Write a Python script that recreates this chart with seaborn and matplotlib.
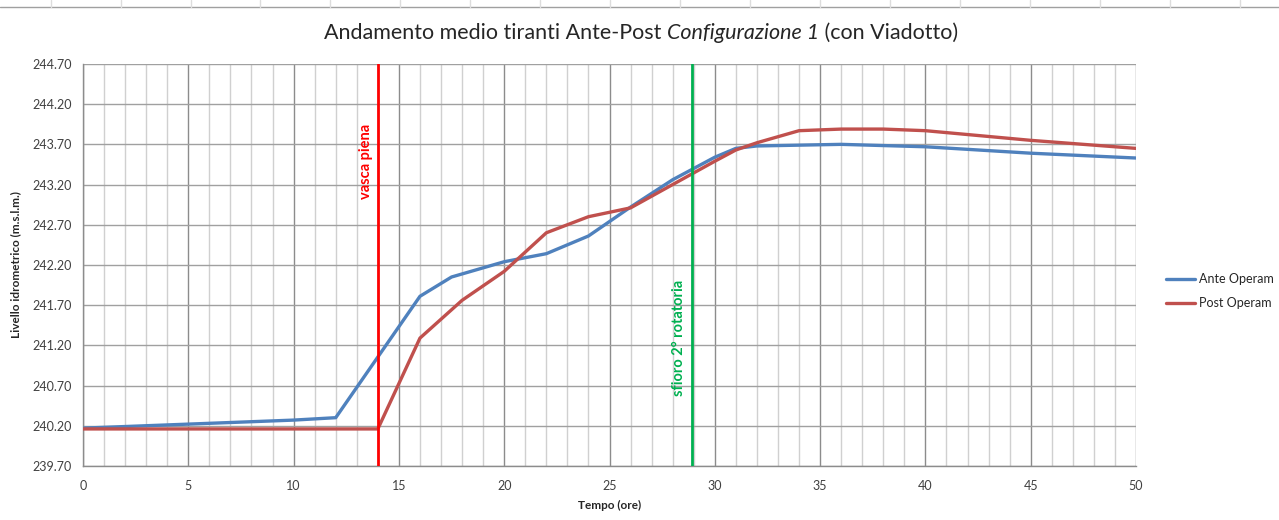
import matplotlib
matplotlib.use("Agg")
import matplotlib.pyplot as plt
import pandas as pd
import seaborn as sns
from matplotlib.lines import Line2D

# time (hours) and average water level (m s.l.m.)
ante_ore = [0, 2, 4, 6, 8, 10, 12, 16, 17.5, 20, 22, 24, 26, 28, 30, 31, 32, 34, 36, 40, 45, 50]
ante_livello = [240.17, 240.19, 240.21, 240.23, 240.25, 240.27, 240.30, 241.81, 242.05, 242.24,
                242.34, 242.56, 242.92, 243.26, 243.54, 243.65, 243.68, 243.69, 243.70, 243.67,
                243.59, 243.53]

post_ore = [0, 14, 16, 18, 20, 22, 24, 26, 28, 30, 31, 32, 34, 36, 38, 40, 45, 50]
post_livello = [240.16, 240.16, 241.29, 241.76, 242.12, 242.60, 242.80, 242.91, 243.20, 243.49,
                243.63, 243.72, 243.87, 243.89, 243.89, 243.87, 243.75, 243.65]

serie = ["Ante Operam", "Post Operam"]
colori = ["#4F81BD", "#C0504D"]

x_vasca_piena = 14
x_sfioro = 28.9

y_ticks = [239.70, 240.20, 240.70, 241.20, 241.70, 242.20, 242.70, 243.20, 243.70, 244.20, 244.70]
x_ticks = [0, 5, 10, 15, 20, 25, 30, 35, 40, 45, 50]

titolo = [("Andamento medio tiranti Ante-Post ", "normal"),
          ("Configurazione 1", "italic"),
          (" (con Viadotto)", "normal")]

df = pd.concat([
    pd.DataFrame({"ore": ante_ore, "livello": ante_livello, "serie": serie[0]}),
    pd.DataFrame({"ore": post_ore, "livello": post_livello, "serie": serie[1]}),
])

sns.set_theme(style="white")
plt.rcParams["font.family"] = ["Lato", "DejaVu Sans"]

fig = plt.figure(figsize=(12.79, 5.2), dpi=100)
ax = fig.add_axes([0.0649, 0.104, 0.8233, 0.773])

# excel-like grid
for x in range(0, 51):
    major = x % 5 == 0
    ax.axvline(x, color="#8C8C8C" if major else "#D0D0D0", lw=1.0, zorder=0)
for y in y_ticks:
    ax.axhline(y, color="#A0A0A0", lw=1.0, zorder=0)

sns.lineplot(data=df, x="ore", y="livello", hue="serie", palette=colori,
             hue_order=serie, linewidth=2.4, ax=ax, legend=False, zorder=3)

ax.axvline(x_vasca_piena, color="#FF0000", lw=2.0, zorder=4)
ax.axvline(x_sfioro, color="#00B050", lw=2.0, zorder=4)
ax.text(x_vasca_piena - 0.25, 243.49, "vasca piena", rotation=90, color="#FF0000",
        fontsize=10.5, fontweight="bold", ha="right", va="center")
ax.text(x_sfioro - 0.25, 241.29, "sfioro 2° rotatoria", rotation=90, color="#00B050",
        fontsize=10.5, fontweight="bold", ha="right", va="center")

ax.set_xlim(0, 50)
ax.set_ylim(239.70, 244.70)
ax.set_xticks(x_ticks)
ax.set_yticks(y_ticks)
ax.set_yticklabels([f"{v:.2f}" for v in y_ticks])
ax.tick_params(axis="both", labelsize=9, colors="#404040", length=4, width=1,
               color="#8C8C8C", direction="out")
ax.tick_params(axis="x", pad=6)
ax.tick_params(axis="y", pad=4)
for side in ["top", "right"]:
    ax.spines[side].set_visible(False)
for side in ["left", "bottom"]:
    ax.spines[side].set_color("#8C8C8C")
    ax.spines[side].set_linewidth(1.0)

ax.set_xlabel("Tempo (ore)", fontsize=8.5, fontweight="bold", labelpad=6)
ax.set_ylabel("Livello idrometrico (m.s.l.m.)", fontsize=8.5, fontweight="bold", labelpad=8)

# title in three pieces (italic middle part), centred as a whole
renderer = fig.canvas.get_renderer()
pezzi = [fig.text(0, 0.937, s, ha="left", va="center", fontsize=15.5, style=st)
         for s, st in titolo]
larghezze = [p.get_window_extent(renderer).width for p in pezzi]
x_pix = 641 - sum(larghezze) / 2
for p, w in zip(pezzi, larghezze):
    p.set_x(x_pix / 1279)
    x_pix += w

handles = [Line2D([], [], color=c, lw=2.4) for c in colori]
fig.legend(handles, serie, loc="center left", bbox_to_anchor=(0.903, 0.44),
           frameon=False, fontsize=9, handlelength=2.3, labelspacing=1.0, handletextpad=0.3)

# spreadsheet border at top
fig.add_artist(Line2D([0, 1], [0.986, 0.986], color="#A0A0A0", lw=1.0))
for xp in [51, 121, 191, 260, 330, 400, 470, 540, 610, 680, 750, 820, 890, 960, 1030, 1100, 1170, 1240]:
    fig.add_artist(Line2D([xp / 1279, xp / 1279], [0.986, 1.0], color="#DDDDDD", lw=1.0))

fig.savefig("out.png", dpi=100)
